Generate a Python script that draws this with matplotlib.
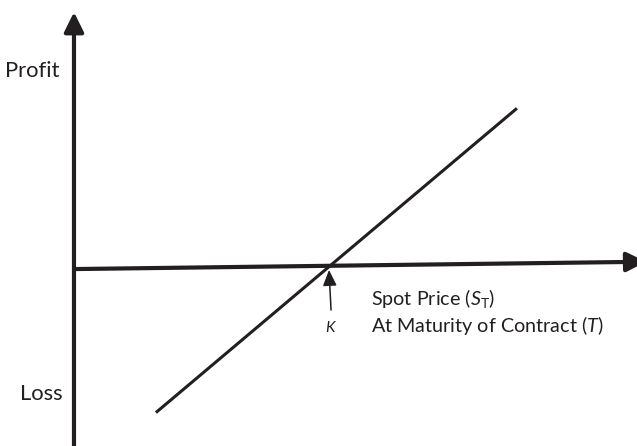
import matplotlib
matplotlib.use("Agg")
import matplotlib.pyplot as plt
import numpy as np

# ---- data (schematic long forward payoff) ----
strike_K = 100.0
spot_prices = [32.0, 173.0]                      # S_T range of the payoff line
payoff = [s - strike_K for s in spot_prices]     # profit = S_T - K
axis_labels = ["Profit", "Loss"]
x_label_lines = ["Spot Price ($\\it{S}_{\\rm T}$)", "At Maturity of Contract ($\\it{T)}$"]
k_label = "K"

FONT = "Lato"
plt.rcParams["mathtext.fontset"] = "custom"
plt.rcParams["mathtext.rm"] = FONT
plt.rcParams["mathtext.it"] = FONT + ":italic"
plt.rcParams["font.family"] = [FONT, "DejaVu Sans"]

W, H = 637, 446
fig = plt.figure(figsize=(W / 100, H / 100), dpi=100)
ax = fig.add_axes([0, 0, 1, 1])
ax.set_xlim(-28.9, 219.9)
ax.set_ylim(-83.5, 123.2)
ax.axis("off")

ink = "#231f20"

# vertical (profit) axis
ax.annotate("", xy=(0, 117.6), xytext=(0, -90), annotation_clip=False,
            arrowprops=dict(arrowstyle="-|>,head_length=0.85,head_width=0.42",
                            lw=3.0, color=ink, shrinkA=0, shrinkB=0,
                            mutation_scale=14))
# horizontal (spot price) axis, slightly tilted as in the original
ax.annotate("", xy=(223.5, 1.9), xytext=(0, -1.5), annotation_clip=False,
            arrowprops=dict(arrowstyle="-|>,head_length=0.85,head_width=0.42",
                            lw=3.0, color=ink, shrinkA=0, shrinkB=0,
                            mutation_scale=14))

# payoff line
ax.plot(spot_prices, payoff, color=ink, lw=2.2, solid_capstyle="butt")

# K arrow
ax.annotate("", xy=(strike_K - 0.4, -1.9), xytext=(strike_K + 0.4, -20.5),
            annotation_clip=False,
            arrowprops=dict(arrowstyle="-|>,head_length=0.8,head_width=0.35",
                            lw=1.1, color=ink, shrinkA=0, shrinkB=0,
                            mutation_scale=12))

def px(x, y):
    return x / W, 1 - y / H

ax.text(*px(330, 328), k_label, transform=ax.transAxes, fontsize=11,
        style="italic", ha="center", va="center", color=ink)
ax.text(*px(371, 305), x_label_lines[0], transform=ax.transAxes, fontsize=14.2,
        ha="left", va="baseline", color=ink)
ax.text(*px(371, 332), x_label_lines[1], transform=ax.transAxes, fontsize=14.2,
        ha="left", va="baseline", color=ink)
ax.text(*px(5, 77), axis_labels[0], transform=ax.transAxes, fontsize=15.8,
        ha="left", va="baseline", color=ink)
ax.text(*px(20, 400), axis_labels[1], transform=ax.transAxes, fontsize=15.8,
        ha="left", va="baseline", color=ink)

fig.savefig("out.png", dpi=100, facecolor="white")
